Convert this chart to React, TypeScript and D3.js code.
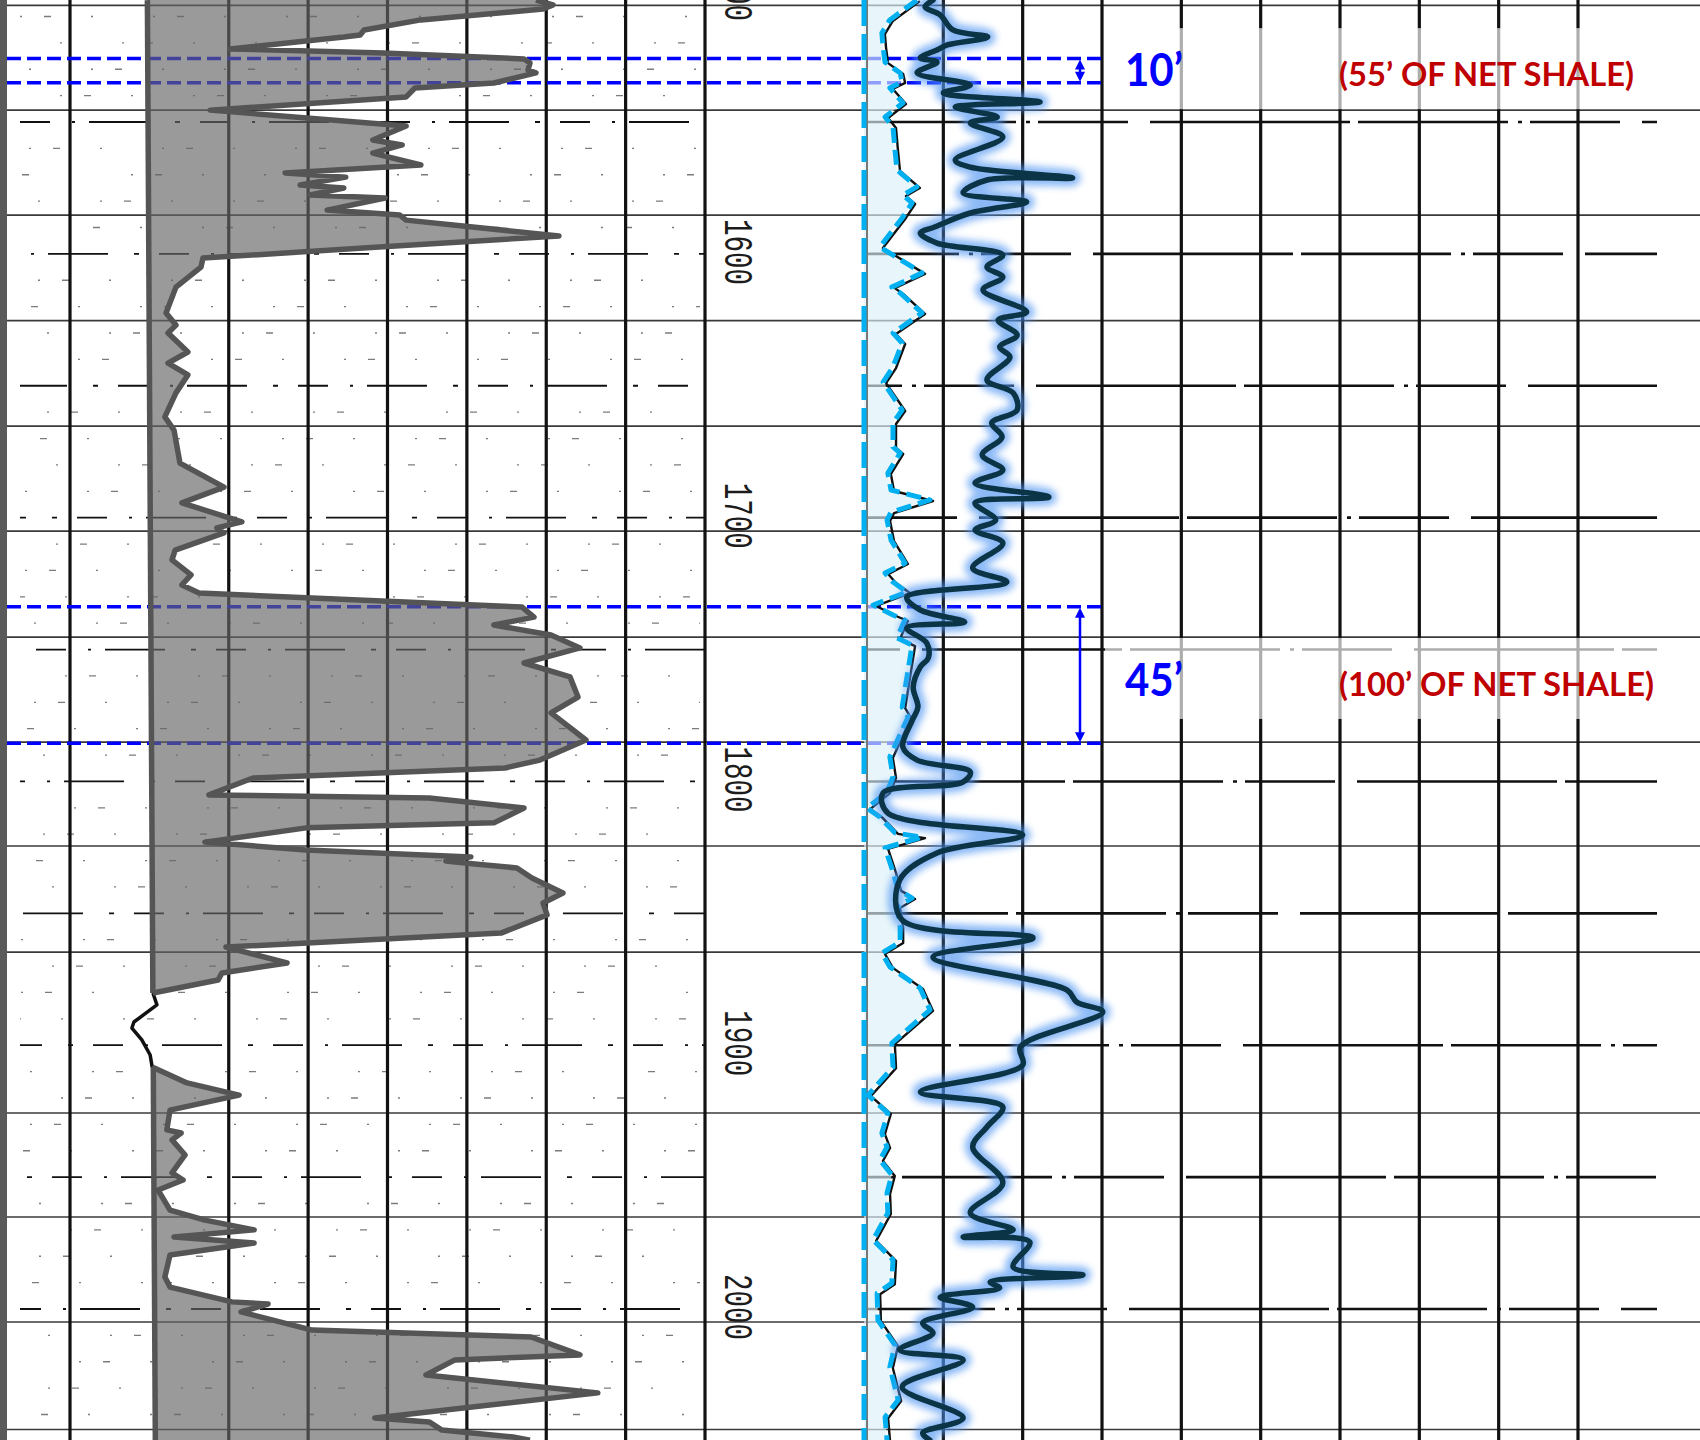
import React from "react";
import * as d3 from "d3";

const W = 1700;
const H = 1440;

// gamma ray, shale-filled run above the clean streak: [depth ft, API]
const grUpper: [number, number][] = [
  [1503.8, 117.4], [1505.6, 121.7], [1507.2, 119.2], [1511.3, 88.4], [1515.1, 74.1], [1517.0, 73.1],
  [1517.8, 69.0], [1522.3, 40.3], [1523.8, 78.9], [1526.1, 114.4], [1527.6, 115.9], [1530.3, 115.4],
  [1531.4, 117.4], [1535.2, 106.8], [1537.1, 86.9], [1540.5, 84.7], [1545.5, 35.3], [1551.5, 84.7],
  [1556.8, 76.3], [1558.7, 83.7], [1561.8, 76.3], [1566.3, 88.4], [1569.3, 54.2], [1570.9, 69.5],
  [1573.9, 58.0], [1575.0, 69.0], [1577.7, 60.5], [1578.8, 79.4], [1583.4, 64.8], [1585.3, 83.1],
  [1587.2, 84.7], [1593.2, 123.2], [1597.4, 77.9], [1601.6, 33.5], [1605.0, 33.0], [1612.6, 26.7],
  [1622.4, 24.2], [1627.0, 26.7], [1630.0, 24.7], [1637.2, 29.7], [1641.4, 24.7], [1645.9, 29.7],
  [1652.7, 26.7], [1661.8, 23.9], [1666.8, 26.2], [1679.3, 27.7], [1688.4, 38.8], [1694.4, 28.2],
  [1701.6, 43.3], [1703.9, 37.0], [1705.8, 38.8], [1712.3, 26.5], [1716.0, 25.7], [1721.7, 30.5],
  [1725.5, 28.2], [1728.6, 32.5], [1733.9, 113.9], [1737.7, 116.9], [1740.7, 106.8], [1744.5, 121.2],
  [1749.4, 128.5], [1755.1, 114.4], [1760.4, 126.0], [1768.0, 128.0], [1774.0, 121.2], [1784.3, 130.0],
  [1791.9, 118.4], [1794.9, 109.6], [1798.7, 46.1], [1805.1, 35.0], [1806.3, 90.5], [1810.1, 114.4],
  [1815.7, 106.8], [1817.6, 59.5], [1823.0, 34.0], [1826.0, 59.5], [1828.6, 101.0], [1830.2, 94.7],
  [1831.3, 102.0], [1832.8, 112.6], [1836.6, 116.4], [1842.3, 124.2], [1846.1, 119.2], [1850.6, 120.2],
  [1857.5, 108.6], [1862.8, 39.3], [1868.8, 54.7], [1872.6, 38.3], [1875.3, 37.3], [1880.2, 20.9],
];

// raw trace where the curve sits on the baseline (no fill)
const grLoop: [number, number][] = [
  [1880.2, 20.9], [1884.7, 21.9], [1891.2, 16.1], [1893.5, 15.6], [1898.0, 18.1], [1903.7, 20.2], [1908.3, 20.7],
];

const grLower: [number, number][] = [
  [1908.3, 20.7], [1914.3, 29.5], [1918.9, 42.6], [1924.6, 25.2], [1932.1, 24.4], [1933.3, 28.0],
  [1935.9, 25.7], [1941.6, 29.0], [1948.4, 25.7], [1951.1, 28.5], [1954.9, 22.2], [1962.5, 25.2],
  [1966.3, 34.0], [1970.0, 46.4], [1972.7, 26.2], [1975.0, 46.4], [1979.5, 25.2], [1987.9, 23.9],
  [1991.7, 25.2], [1997.3, 40.8], [1998.1, 49.9], [2001.1, 43.1], [2008.0, 61.0], [2010.6, 116.2],
  [2017.4, 128.5], [2019.3, 97.0], [2025.0, 89.7], [2031.8, 133.0], [2041.3, 76.8], [2042.8, 90.5],
  [2045.9, 93.7], [2048.5, 111.6], [2049.7, 115.9],
];

// shale baseline of the GR fill drifts slightly on the scan
const grBase: [number, number][] = [[1503.8, 19.5], [2049.7, 21.5]];

// SP, mV right of the sand line
const spCurve: [number, number][] = [
  [1503.8, 13.3], [1511.3, 6.5], [1516.3, 4.5], [1521.6, 4.8], [1527.3, 5.3], [1531.4, 9.1],
  [1534.8, 9.6], [1537.1, 6.5], [1542.8, 9.8], [1548.1, 5.3], [1551.9, 7.3], [1560.6, 7.8],
  [1568.2, 8.3], [1574.6, 13.3], [1577.7, 9.8], [1580.7, 12.1], [1586.0, 9.8], [1597.4, 4.0],
  [1607.2, 14.6], [1612.6, 7.0], [1614.8, 9.1], [1622.4, 14.6], [1630.0, 7.3], [1633.8, 9.6],
  [1642.9, 7.3], [1648.6, 4.8], [1659.2, 9.6], [1664.1, 7.3], [1673.2, 7.3], [1675.5, 9.1],
  [1683.1, 6.0], [1689.5, 6.8], [1693.3, 16.6], [1697.9, 6.8], [1700.9, 5.8], [1708.5, 6.8],
  [1717.2, 10.3], [1721.0, 5.3], [1724.4, 7.3], [1728.2, 10.8], [1733.1, 2.3], [1736.9, 7.3],
  [1738.8, 10.3], [1745.6, 8.3], [1748.3, 12.1], [1771.8, 9.6], [1775.6, 11.1], [1790.7, 6.5],
  [1798.3, 7.3], [1804.0, 5.8], [1810.1, 0.8], [1813.5, 4.0], [1819.5, 7.8], [1821.1, 14.6],
  [1825.2, 5.3], [1834.3, 7.3], [1841.1, 8.6], [1844.2, 12.1], [1847.6, 8.3], [1855.2, 9.1],
  [1860.9, 9.1], [1865.0, 4.5], [1870.3, 6.5], [1878.3, 14.1], [1886.6, 16.6], [1899.2, 7.0],
  [1908.3, 7.3], [1918.9, 1.0], [1925.7, 6.0], [1933.3, 4.5], [1938.6, 5.8], [1943.5, 4.0],
  [1949.2, 7.0], [1956.0, 5.8], [1963.6, 6.0], [1973.8, 2.3], [1981.4, 7.3], [1990.2, 7.0],
  [1994.0, 3.3], [2004.2, 3.5], [2013.7, 7.8], [2022.0, 6.5], [2034.5, 8.6], [2041.0, 5.3],
  [2049.7, 5.8],
];

// resistivity, ohm-m
const resCurve: [number, number][] = [
  [1503.8, 8.7], [1506.4, 7.7], [1509.4, 9.6], [1515.1, 11.2], [1517.8, 15.6], [1520.8, 10.5],
  [1522.7, 9.2], [1525.7, 7.1], [1527.3, 9.2], [1531.4, 6.7], [1536.0, 13.4], [1539.0, 10.0],
  [1542.4, 22.2], [1544.3, 11.5], [1548.1, 16.8], [1550.4, 13.4], [1555.7, 17.5], [1564.4, 11.5],
  [1567.1, 13.4], [1571.2, 26.3], [1572.0, 15.5], [1576.9, 12.5], [1580.3, 20.5], [1584.5, 13.4],
  [1589.8, 8.9], [1592.1, 7.1], [1595.9, 9.2], [1600.4, 17.5], [1605.0, 15.5], [1608.8, 17.5],
  [1613.7, 15.0], [1622.0, 20.5], [1625.1, 16.9], [1630.8, 19.3], [1635.3, 17.1], [1639.1, 18.4],
  [1647.8, 15.5], [1652.7, 18.8], [1659.2, 19.3], [1664.1, 16.1], [1669.4, 17.4], [1676.2, 14.9],
  [1681.9, 17.5], [1686.9, 14.0], [1692.2, 23.3], [1694.4, 14.0], [1700.9, 16.6], [1704.7, 14.0],
  [1709.6, 17.5], [1719.1, 13.7], [1724.4, 18.0], [1730.1, 5.4], [1735.0, 7.1], [1739.6, 12.7],
  [1741.8, 5.4], [1747.5, 7.9], [1753.2, 8.1], [1756.6, 7.1], [1764.2, 6.2], [1771.8, 6.8],
  [1776.7, 6.1], [1787.0, 4.9], [1791.9, 6.7], [1796.4, 13.4], [1800.2, 12.5], [1804.4, 2.4],
  [1812.0, 3.0], [1820.3, 20.0], [1827.1, 9.2], [1837.4, 4.5], [1852.5, 4.8], [1859.3, 21.3],
  [1866.6, 8.7], [1879.1, 25.6], [1883.6, 26.8], [1887.4, 30.1], [1900.7, 19.7], [1907.5, 20.0],
  [1917.7, 7.1], [1923.4, 17.5], [1931.0, 15.5], [1938.6, 13.7], [1952.2, 17.5], [1963.6, 13.4],
  [1970.0, 18.8], [1972.7, 12.5], [1974.6, 20.9], [1984.1, 18.8], [1987.1, 27.6], [1989.8, 15.9],
  [1992.0, 17.1], [1995.5, 9.6], [1999.3, 13.7], [2005.3, 7.4], [2009.1, 8.7], [2015.5, 4.5],
  [2019.3, 12.5], [2029.6, 4.8], [2041.3, 12.5], [2047.0, 7.4], [2049.7, 8.3],
];

const depthLabels = [1500, 1600, 1700, 1800, 1900, 2000];
const heavyDepths = [1550, 1600, 1650, 1700, 1750, 1800, 1850, 1900, 1950, 2000];
const thinDepths = [1505.8, 1545.5, 1585.3, 1625.3, 1665.3, 1705.1, 1745.3, 1785.1, 1824.5, 1864.7, 1925.7, 1965.1, 2004.9, 2045.7];
const grTicks = [0, 40, 60, 80, 100, 120, 140, 160];
const resTicks = [10, 20, 30, 40, 50, 60, 70, 80, 90];

const markers = [
  { top: 1525.9, bottom: 1535.1, textDepth: 1536.4, label: "10’", note: "(55’ OF NET SHALE)", noteLen: 295 },
  { top: 1733.8, bottom: 1785.5, textDepth: 1767.6, label: "45’", note: "(100’ OF NET SHALE)", noteLen: 315 },
];

export default function App() {
  const y = d3.scaleLinear().domain([1500, 2000]).range([-9.9, 1309]);
  const grX = d3.scaleLinear().domain([0, 160]).range([70, 705]);
  const spX = d3.scaleLinear().domain([0, 40]).range([864, 1023]);
  const resX = d3.scaleLinear().domain([0, 30]).range([864, 1102]);
  const baseX = d3.scaleLinear().domain(grBase.map(d => d[0])).range(grBase.map(d => grX(d[1])));

  const grArea = d3.area<[number, number]>().y(d => y(d[0])).x0(d => baseX(d[0])).x1(d => grX(d[1]));
  const grLine = d3.line<[number, number]>().x(d => grX(d[1])).y(d => y(d[0]));
  const baseLine = d3.line<[number, number]>().x(d => baseX(d[0])).y(d => y(d[0]));
  const spArea = d3.area<[number, number]>().y(d => y(d[0])).x0(spX(0)).x1(d => spX(d[1]));
  const spLine = d3.line<[number, number]>().x(d => spX(d[1])).y(d => y(d[0]));
  const resLine = d3.line<[number, number]>()
    .x(d => resX(d[1]))
    .y(d => y(d[0]))
    .curve(d3.curveCatmullRom.alpha(0.5));

  const tenFoot = d3.range(1510, 2050, 10).filter(d => d % 50 !== 0);
  const rightEdge = resX(30) + 1;
  const arrowX = 1080;

  const baseRun = (run: [number, number][]) =>
    baseLine([run[0], run[run.length - 1]]) as string;

  return (
    <div style={{ position: "absolute", left: 0, top: 0, width: W, height: H }}>
      <svg width={W} height={H} style={{ display: "block" }}>
        <defs>
          <filter id="glow" x="-30%" y="-5%" width="160%" height="110%">
            <feGaussianBlur stdDeviation="3.5" />
          </filter>
        </defs>
        <rect width={W} height={H} fill="#fff" />
        <rect width={7} height={H} fill="#5a5a5a" />

        {/* 10 ft ticks, left track only, faint on the scan */}
        {tenFoot.map((d, i) => (
          <line key={"t" + d} x1={20} x2={700} y1={y(d)} y2={y(d)}
            stroke="#111" strokeWidth={1.3} opacity={0.55}
            strokeDasharray="2 22 7 40 2 60" strokeDashoffset={i * 31} />
        ))}

        {/* 50 ft heavy lines */}
        {heavyDepths.map((d, i) => (
          <g key={"h" + d}>
            <line x1={20} x2={705} y1={y(d)} y2={y(d)} stroke="#111" strokeWidth={1.8}
              strokeDasharray="30 22 3 14 60 26 5 20" strokeDashoffset={i * 41} />
            <line x1={866} x2={1657} y1={y(d)} y2={y(d)} stroke="#111" strokeWidth={2.6}
              strokeDasharray="150 10 4 8 90 22 200 8" strokeDashoffset={i * 57} />
          </g>
        ))}

        {/* thin continuous lines */}
        {thinDepths.map(d => (
          <line key={"n" + d} x1={7} x2={W} y1={y(d)} y2={y(d)} stroke="#3a3a3a" strokeWidth={1.6} />
        ))}

        {/* vertical grid */}
        {grTicks.map(t => (
          <line key={"g" + t} x1={grX(t)} x2={grX(t)} y1={0} y2={H} stroke="#111" strokeWidth={3.2} />
        ))}
        {resTicks.map(t => (
          <line key={"r" + t} x1={resX(t)} x2={resX(t)} y1={0} y2={H} stroke="#111" strokeWidth={3.2} />
        ))}

        {/* depth numbers */}
        {depthLabels.map(d => (
          <text key={"d" + d}
            transform={`translate(725,${y(d) - 2}) rotate(90)`}
            textAnchor="middle" fontFamily="'Liberation Mono', monospace" fontSize={40}
            textLength={66} lengthAdjust="spacingAndGlyphs" fill="#1c1c1c">
            {d}
          </text>
        ))}

        {/* interval lines (under the GR fill) */}
        {markers.map(m => (
          <g key={"b" + m.label}>
            {[m.top, m.bottom].map(d => (
              <line key={d} x1={7} x2={rightEdge} y1={y(d)} y2={y(d)}
                stroke="#0000ff" strokeWidth={3.5} strokeDasharray="14 6" />
            ))}
          </g>
        ))}

        {/* gamma ray */}
        <path d={grArea(grUpper) as string} fill="#666" fillOpacity={0.66} />
        <path d={grArea(grLower) as string} fill="#666" fillOpacity={0.66} />
        <path d={baseRun(grUpper)} stroke="#555" strokeWidth={5.5} fill="none" />
        <path d={baseRun(grLower)} stroke="#555" strokeWidth={5.5} fill="none" />
        <path d={grLine(grLoop) as string} stroke="#111" strokeWidth={3.5} fill="none" strokeLinejoin="round" />
        <path d={grLine(grUpper) as string} stroke="#555" strokeWidth={5.5} fill="none" strokeLinejoin="round" />
        <path d={grLine(grLower) as string} stroke="#555" strokeWidth={5.5} fill="none" strokeLinejoin="round" />

        {/* SP */}
        <path d={spArea(spCurve) as string} fill="#dcf1f9" fillOpacity={0.65} />
        <line x1={spX(0) + 3} x2={spX(0) + 3} y1={0} y2={H} stroke="#777" strokeWidth={2} />
        <line x1={spX(0)} x2={spX(0)} y1={0} y2={H} stroke="#00b0f0" strokeWidth={5} strokeDasharray="26 8" />
        <path d={spLine(spCurve) as string} transform="translate(3,1)" stroke="#111" strokeWidth={2.4}
          fill="none" strokeLinejoin="round" />
        <path d={spLine(spCurve) as string} stroke="#00b0f0" strokeWidth={5} fill="none"
          strokeDasharray="15 7" strokeLinejoin="round" />

        {/* resistivity */}
        <path d={resLine(resCurve) as string} stroke="#4f95f2" strokeWidth={16} opacity={0.65}
          fill="none" filter="url(#glow)" strokeLinejoin="round" strokeLinecap="round" />
        <path d={resLine(resCurve) as string} stroke="#0b3446" strokeWidth={5.5}
          fill="none" strokeLinejoin="round" strokeLinecap="round" />

        {/* labels */}
        {markers.map(m => {
          const t = y(m.top);
          const b = y(m.bottom);
          const ty = y(m.textDepth);
          const head = Math.min(10, (b - t) / 2.4);
          return (
            <g key={"l" + m.label}>
              <rect x={1105} y={ty - 58} width={W - 1105} height={81} fill="#fff" opacity={0.66} />
              <line x1={arrowX} x2={arrowX} y1={t + head} y2={b - head} stroke="#0000ff" strokeWidth={2.5} />
              <polygon points={`${arrowX},${t + 1} ${arrowX - 5},${t + head + 1} ${arrowX + 5},${t + head + 1}`} fill="#0000ff" />
              <polygon points={`${arrowX},${b - 1} ${arrowX - 5},${b - head - 1} ${arrowX + 5},${b - head - 1}`} fill="#0000ff" />
              <text x={1125} y={ty} fontFamily="Lato, 'Open Sans', sans-serif" fontWeight={700}
                fontSize={46} fill="#0000ff" textLength={58} lengthAdjust="spacingAndGlyphs">
                {m.label}
              </text>
              <text x={1339} y={ty} fontFamily="Lato, 'Open Sans', sans-serif" fontWeight={700}
                fontSize={33} fill="#c00000" textLength={m.noteLen} lengthAdjust="spacingAndGlyphs">
                {m.note}
              </text>
            </g>
          );
        })}
      </svg>
    </div>
  );
}
